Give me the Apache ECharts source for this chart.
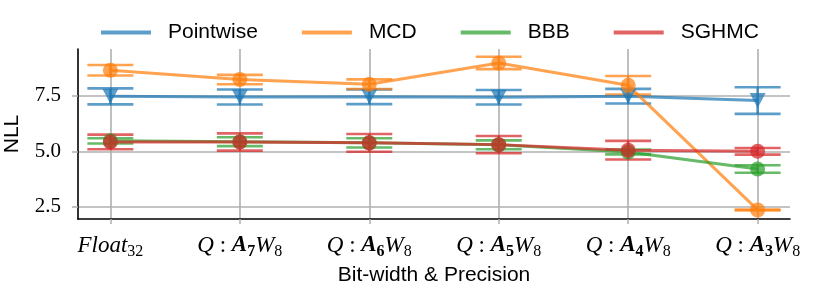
<!DOCTYPE html>
<html>
<head>
<meta charset="utf-8">
<script src="https://cdn.jsdelivr.net/npm/echarts@6/dist/echarts.min.js"></script>
<style>
html,body{margin:0;padding:0;background:#fff;}
#chart{width:830px;height:291px;}
</style>
</head>
<body>
<div id="chart"></div>
<script>
// ---- data ----
var xPositions = [0, 1, 2, 3, 4, 5];
var xTickLabels = [
  '{it|Float}{sub|32}',
  '{it|Q}{rm| : }{bi|A}{subb|7}{it|W}{sub|8}',
  '{it|Q}{rm| : }{bi|A}{subb|6}{it|W}{sub|8}',
  '{it|Q}{rm| : }{bi|A}{subb|5}{it|W}{sub|8}',
  '{it|Q}{rm| : }{bi|A}{subb|4}{it|W}{sub|8}',
  '{it|Q}{rm| : }{bi|A}{subb|3}{it|W}{sub|8}'
];
var yTicks = [2.5, 5.0, 7.5];
var seriesNames = ['Pointwise', 'MCD', 'BBB', 'SGHMC'];

var pointwiseMean = [7.48, 7.45, 7.46, 7.44, 7.49, 7.29];
var pointwiseErr  = [0.36, 0.34, 0.33, 0.33, 0.33, 0.60];
var mcdMean = [8.66, 8.24, 8.03, 8.99, 7.98, 2.35];
var mcdErr  = [0.24, 0.21, 0.22, 0.28, 0.42, 0.02];
var bbbMean = [5.47, 5.43, 5.38, 5.29, 4.97, 4.20];
var bbbErr  = [0.12, 0.20, 0.21, 0.20, 0.11, 0.17];
var sghmcMean = [5.42, 5.42, 5.38, 5.30, 5.05, 5.00];
var sghmcErr  = [0.33, 0.39, 0.40, 0.39, 0.42, 0.15];

var colors = ['rgba(31,119,180,0.72)', 'rgba(255,127,14,0.72)', 'rgba(44,160,44,0.72)', 'rgba(214,39,40,0.72)'];
var symbols = ['triangle', 'circle', 'circle', 'circle'];
var means = [pointwiseMean, mcdMean, bbbMean, sghmcMean];
var errs = [pointwiseErr, mcdErr, bbbErr, sghmcErr];

var series = [];
for (var s = 0; s < 4; s++) {
  (function (s) {
    var errData = xPositions.map(function (x, i) { return [x, means[s][i], errs[s][i]]; });
    series.push({
      name: seriesNames[s] + ' err',
      type: 'custom',
      data: errData,
      encode: { x: 0, y: 1 },
      silent: true,
      renderItem: function (params, api) {
        var x = api.value(0), m = api.value(1), e = api.value(2);
        var lo = api.coord([x, m - e]);
        var hi = api.coord([x, m + e]);
        var hw = 23;
        var st = { stroke: colors[s], lineWidth: 2.6 };
        return {
          type: 'group',
          children: [
            { type: 'line', shape: { x1: lo[0], y1: lo[1], x2: hi[0], y2: hi[1] }, style: st },
            { type: 'line', shape: { x1: lo[0] - hw, y1: lo[1], x2: lo[0] + hw, y2: lo[1] }, style: st },
            { type: 'line', shape: { x1: hi[0] - hw, y1: hi[1], x2: hi[0] + hw, y2: hi[1] }, style: st }
          ]
        };
      }
    });
    series.push({
      name: seriesNames[s],
      type: 'line',
      data: xPositions.map(function (x, i) { return [x, means[s][i]]; }),
      symbol: symbols[s],
      symbolSize: s === 0 ? [16, 15] : 15,
      symbolRotate: s === 0 ? 180 : 0,
      lineStyle: { color: colors[s], width: 3 },
      itemStyle: { color: colors[s] },
      emphasis: { disabled: true },
      animation: false
    });
  })(s);
}

var chart = echarts.init(document.getElementById('chart'), null, { renderer: 'canvas' });
chart.setOption({
  animation: false,
  backgroundColor: '#fff',
  grid: { left: 78, right: 40, top: 49, bottom: 72, containLabel: false, outerBoundsMode: 'none' },
  legend: {
    data: seriesNames,
    icon: 'rect',
    itemWidth: 50,
    itemHeight: 4,
    itemGap: 44,
    left: 96,
    top: 17,
    textStyle: { fontFamily: 'Liberation Sans', fontSize: 21, color: '#000', padding: [0, 0, 0, 12] }
  },
  xAxis: {
    type: 'value',
    min: -0.25,
    max: 5.25,
    name: 'Bit-width & Precision',
    nameLocation: 'middle',
    nameGap: 43,
    nameTextStyle: { fontFamily: 'Liberation Sans', fontSize: 21, color: '#000' },
    axisLine: { show: true, onZero: false, lineStyle: { color: '#000', width: 1.6 } },
    axisTick: { show: true, customValues: xPositions, length: 5, lineStyle: { color: '#b0b0b0', width: 1.5 } },
    splitLine: { show: true, lineStyle: { color: '#b0b0b0', width: 1.6 } },
    axisLabel: {
      customValues: xPositions,
      margin: 12,
      formatter: function (v) { return xTickLabels[Math.round(v)]; },
      rich: {
        it: { fontFamily: 'Liberation Serif', fontStyle: 'italic', fontSize: 23, color: '#000' },
        rm: { fontFamily: 'Liberation Serif', fontSize: 23, color: '#000' },
        bi: { fontFamily: 'Liberation Serif', fontStyle: 'italic', fontWeight: 'bold', fontSize: 23, color: '#000' },
        sub: { fontFamily: 'Liberation Serif', fontSize: 16, color: '#000', padding: [13, 0, 0, 0] },
        subb: { fontFamily: 'Liberation Serif', fontWeight: 'bold', fontSize: 16, color: '#000', padding: [13, 0, 0, 0] }
      }
    }
  },
  yAxis: {
    type: 'value',
    min: 1.94,
    max: 9.62,
    name: 'NLL',
    nameLocation: 'middle',
    nameGap: 55,
    nameTextStyle: { fontFamily: 'Liberation Sans', fontSize: 21, color: '#000' },
    axisLine: { show: true, onZero: false, lineStyle: { color: '#000', width: 1.6 } },
    axisTick: { show: true, customValues: yTicks, length: 6, lineStyle: { color: '#b0b0b0', width: 1.5 } },
    splitLine: { show: true, lineStyle: { color: '#b0b0b0', width: 1.6 } },
    axisLabel: {
      customValues: yTicks,
      margin: 17,
      formatter: function (v) { return v.toFixed(1); },
      fontFamily: 'Liberation Serif',
      fontSize: 21,
      color: '#000'
    }
  },
  series: series
});
</script>
</body>
</html>
